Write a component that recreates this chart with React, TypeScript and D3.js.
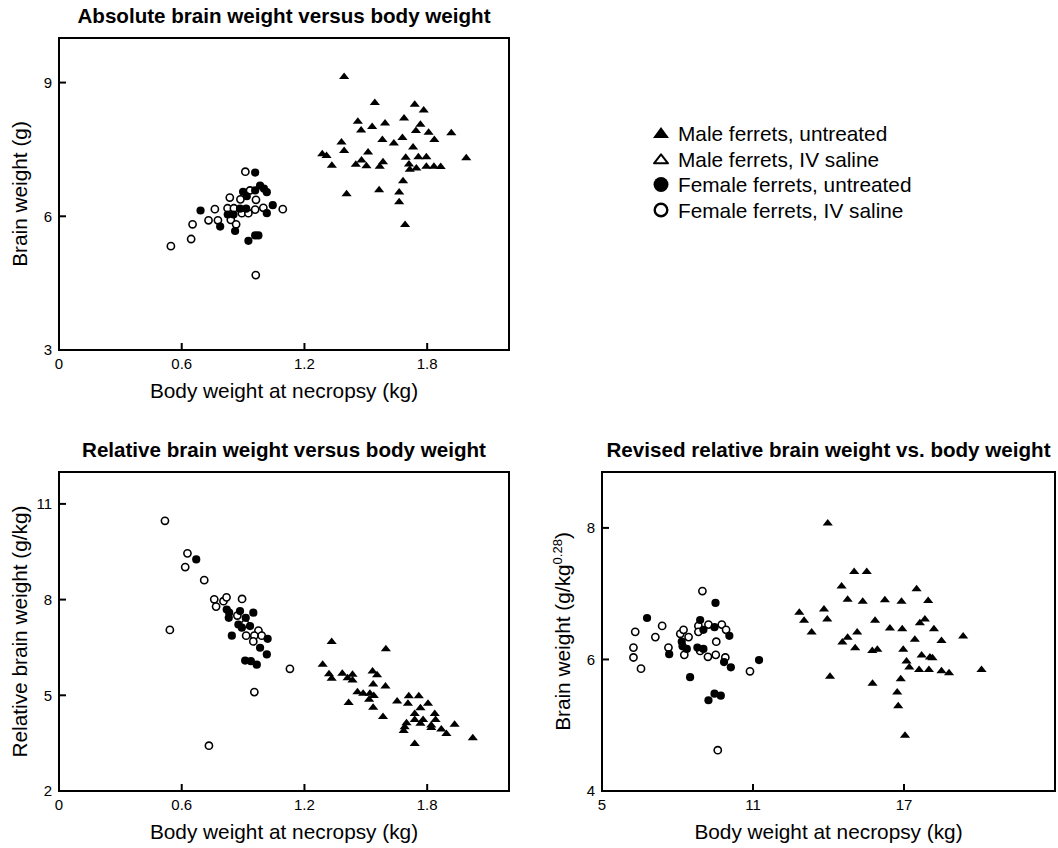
import * as d3 from 'd3';

const FONT = '"Liberation Sans", Arial, Helvetica, sans-serif';

// --- data ---
const kgTicks = [0, 0.6, 1.2, 1.8];
const absTicks = [3, 6, 9];
const relTicks = [2, 5, 8, 11];
const revXTicks = [5, 11, 17];
const revYTicks = [4, 6, 8];

const legendLabels = [
  'Male ferrets, untreated',
  'Male ferrets, IV saline',
  'Female ferrets, untreated',
  'Female ferrets, IV saline',
];

// Absolute brain weight (g) vs body weight (kg)
const absMale: [number, number][] = [
  [1.394, 9.14], [1.544, 8.56], [1.739, 8.52], [1.783, 8.39], [1.461, 8.14], [1.594, 8.1],
  [1.687, 8.21], [1.767, 8.07], [1.477, 7.94], [1.531, 8.02], [1.745, 7.93], [1.807, 7.89],
  [1.918, 7.88], [1.381, 7.67], [1.581, 7.73], [1.637, 7.65], [1.679, 7.77], [1.835, 7.73],
  [1.394, 7.48], [1.511, 7.45], [1.731, 7.56], [1.287, 7.41], [1.308, 7.37], [1.695, 7.33],
  [1.757, 7.34], [1.796, 7.34], [1.991, 7.32], [1.479, 7.27], [1.451, 7.17], [1.503, 7.14],
  [1.334, 7.15], [1.584, 7.23], [1.568, 7.13], [1.711, 7.18], [1.715, 7.06], [1.747, 7.09],
  [1.796, 7.13], [1.833, 7.13], [1.866, 7.12], [1.682, 6.8], [1.406, 6.51], [1.565, 6.6],
  [1.663, 6.55], [1.663, 6.33], [1.692, 5.82],
];
const absFemale: [number, number][] = [
  [0.692, 6.13], [0.788, 5.77], [0.825, 6.04], [0.853, 6.04], [0.861, 5.67], [0.885, 6.17],
  [0.9, 6.55], [0.915, 6.17], [0.918, 6.45], [0.926, 5.45], [0.959, 6.98], [0.959, 6.58],
  [0.959, 5.57], [0.975, 5.57], [0.983, 6.69], [1.002, 6.62], [1.016, 6.54], [1.016, 6.07],
  [1.045, 6.25],
];
const absFemaleSaline: [number, number][] = [
  [0.547, 5.33], [0.646, 5.49], [0.653, 5.82], [0.731, 5.91], [0.762, 6.16], [0.777, 5.91],
  [0.824, 6.18], [0.835, 6.42], [0.84, 5.92], [0.855, 6.18], [0.866, 5.82], [0.887, 6.38],
  [0.894, 6.07], [0.911, 7.0], [0.926, 6.07], [0.934, 6.58], [0.959, 6.15], [0.963, 6.37],
  [0.999, 6.19], [1.094, 6.16], [0.962, 4.68],
];

// Relative brain weight (g/kg) vs body weight (kg)
const relMale: [number, number][] = [
  [1.333, 6.69], [1.598, 6.47], [1.289, 5.98], [1.32, 5.68], [1.333, 5.54], [1.385, 5.7],
  [1.411, 5.56], [1.435, 5.67], [1.435, 5.49], [1.533, 5.77], [1.555, 5.65], [1.536, 5.36],
  [1.596, 5.3], [1.459, 5.12], [1.487, 5.07], [1.52, 5.07], [1.539, 5.0], [1.516, 4.88],
  [1.416, 4.78], [1.536, 4.63], [1.584, 4.34], [1.653, 4.83], [1.71, 4.99], [1.759, 4.99],
  [1.706, 4.76], [1.804, 4.76], [1.767, 4.62], [1.837, 4.44], [1.739, 4.44], [1.739, 4.25],
  [1.78, 4.25], [1.841, 4.25], [1.699, 4.15], [1.767, 4.13], [1.82, 4.08], [1.82, 4.0],
  [1.69, 4.02], [1.685, 3.9], [1.869, 3.95], [1.894, 3.81], [1.934, 4.1], [2.023, 3.68],
  [1.739, 3.5],
];
const relFemale: [number, number][] = [
  [0.671, 9.26], [0.82, 7.69], [0.832, 7.59], [0.83, 7.43], [0.885, 7.64], [0.95, 7.59],
  [0.913, 7.43], [0.877, 7.22], [0.894, 7.12], [0.934, 7.17], [0.845, 6.87], [1.02, 6.77],
  [0.983, 6.49], [1.016, 6.28], [0.91, 6.09], [0.938, 6.07], [0.967, 5.96],
];
const relFemaleSaline: [number, number][] = [
  [0.518, 10.47], [0.628, 9.45], [0.617, 9.02], [0.71, 8.61], [0.759, 8.01], [0.768, 7.78],
  [0.804, 7.95], [0.819, 8.07], [0.895, 8.02], [0.872, 7.5], [0.91, 7.24], [0.975, 7.03],
  [0.955, 6.87], [0.991, 6.87], [0.915, 6.87], [0.95, 6.69], [0.542, 7.05], [1.129, 5.83],
  [0.955, 5.1], [0.733, 3.42],
];

// Revised relative brain weight (g/kg^0.28) vs body weight
const revMale: [number, number][] = [
  [13.97, 8.08], [15.02, 7.34], [15.52, 7.34], [14.52, 7.12], [17.5, 7.08], [14.76, 6.92],
  [15.36, 6.89], [16.24, 6.91], [16.9, 6.89], [17.96, 6.9], [12.84, 6.72], [13.82, 6.77],
  [13.03, 6.6], [13.95, 6.62], [13.33, 6.42], [15.85, 6.6], [17.83, 6.62], [17.63, 6.56],
  [16.44, 6.48], [16.93, 6.47], [18.19, 6.47], [15.14, 6.42], [14.76, 6.34], [14.55, 6.27],
  [17.43, 6.31], [18.49, 6.29], [15.06, 6.18], [15.74, 6.14], [15.94, 6.16], [16.97, 6.16],
  [17.7, 6.07], [18.03, 6.04], [18.13, 6.03], [17.1, 5.98], [17.21, 5.89], [17.6, 5.85],
  [17.99, 5.85], [18.49, 5.83], [18.79, 5.8], [16.87, 5.71], [14.06, 5.75], [15.75, 5.64],
  [16.73, 5.51], [16.77, 5.3], [17.04, 4.85], [19.35, 6.36], [20.08, 5.85],
];
const revFemale: [number, number][] = [
  [6.79, 6.63], [9.51, 6.86], [8.9, 6.6], [9.03, 6.45], [9.47, 6.49], [10.06, 6.36],
  [8.17, 6.27], [8.2, 6.2], [8.37, 6.16], [7.67, 6.08], [8.79, 6.18], [9.03, 6.16],
  [9.85, 5.96], [10.12, 5.88], [11.24, 5.99], [8.5, 5.73], [9.47, 5.48], [9.72, 5.45],
  [9.23, 5.38],
];
const revFemaleSaline: [number, number][] = [
  [8.99, 7.04], [6.32, 6.42], [7.39, 6.51], [7.12, 6.34], [6.25, 6.18], [6.25, 6.03],
  [6.55, 5.86], [7.64, 6.18], [8.11, 6.39], [8.24, 6.45], [8.44, 6.34], [8.27, 6.07],
  [8.83, 6.51], [8.83, 6.42], [9.23, 6.53], [9.76, 6.53], [9.93, 6.45], [9.54, 6.27],
  [8.9, 6.13], [9.21, 6.04], [9.52, 6.07], [9.9, 6.03], [10.88, 5.82], [9.6, 4.62],
];

type Box = { left: number; right: number; top: number; bottom: number };

function tri(cx: number, cy: number, hw: number, h: number) {
  return `M${cx - hw},${cy + h * 0.42} L${cx},${cy - h * 0.58} L${cx + hw},${cy + h * 0.42} Z`;
}

function Panel(props: {
  box: Box;
  xDomain: [number, number];
  yDomain: [number, number];
  xTicks: number[];
  yTicks: number[];
  title: string;
  yLabel: any;
  males: [number, number][];
  females: [number, number][];
  femalesSaline: [number, number][];
}) {
  const { box, xDomain, yDomain, xTicks, yTicks, title, yLabel, males, females, femalesSaline } = props;
  const x = d3.scaleLinear().domain(xDomain).range([box.left, box.right]);
  const y = d3.scaleLinear().domain(yDomain).range([box.bottom, box.top]);
  const cx = (box.left + box.right) / 2;
  const cy = (box.top + box.bottom) / 2;

  return (
    <g fontFamily={FONT} fill="#000">
      <text x={cx} y={box.top - 15} textAnchor="middle" fontSize={20.6} fontWeight="bold">
        {title}
      </text>
      <rect
        x={box.left}
        y={box.top}
        width={box.right - box.left}
        height={box.bottom - box.top}
        fill="none"
        stroke="#000"
        strokeWidth={2}
      />
      {xTicks.map((t) => (
        <g key={'x' + t}>
          <line x1={x(t)} x2={x(t)} y1={box.bottom} y2={box.bottom - 7} stroke="#000" strokeWidth={2} />
          <text x={x(t)} y={box.bottom + 19} textAnchor="middle" fontSize={15}>
            {String(t)}
          </text>
        </g>
      ))}
      {yTicks.map((t) => (
        <g key={'y' + t}>
          <line x1={box.left} x2={box.left + 7} y1={y(t)} y2={y(t)} stroke="#000" strokeWidth={2} />
          <text x={box.left - 7} y={y(t)} dy="0.36em" textAnchor="end" fontSize={15}>
            {String(t)}
          </text>
        </g>
      ))}
      <text x={cx} y={box.bottom + 48} textAnchor="middle" fontSize={20.8}>
        Body weight at necropsy (kg)
      </text>
      <text transform={`translate(${box.left - 32},${cy}) rotate(-90)`} textAnchor="middle" fontSize={20.8}>
        {yLabel}
      </text>

      {/* points */}
      {males.map((d, i) => (
        <path key={'m' + i} d={tri(x(d[0]), y(d[1]), 5.1, 6.5)} fill="#000" />
      ))}
      {femalesSaline.map((d, i) => (
        <circle key={'s' + i} cx={x(d[0])} cy={y(d[1])} r={3.6} fill="#fff" stroke="#000" strokeWidth={1.6} />
      ))}
      {females.map((d, i) => (
        <circle key={'f' + i} cx={x(d[0])} cy={y(d[1])} r={4.1} fill="#000" />
      ))}
    </g>
  );
}

function Legend() {
  const rowY = d3.scaleLinear().domain([0, 1]).range([141, 166.5]);
  const sx = 661;
  return (
    <g fontFamily={FONT}>
      {legendLabels.map((label, i) => {
        const by = rowY(i);
        const my = by - 7.5;
        let marker;
        if (i === 0) marker = <path d={tri(sx, my, 8, 11)} fill="#000" />;
        else if (i === 1) marker = <path d={tri(sx, my + 0.5, 7, 9)} fill="#fff" stroke="#000" strokeWidth={2} strokeLinejoin="round" />;
        else if (i === 2) marker = <circle cx={sx} cy={my} r={7.5} fill="#000" />;
        else marker = <circle cx={sx} cy={my} r={6.3} fill="#fff" stroke="#000" strokeWidth={2.4} />;
        return (
          <g key={label}>
            {marker}
            <text x={678} y={by} fontSize={20.8} fill="#000">
              {label}
            </text>
          </g>
        );
      })}
    </g>
  );
}

export default function App() {
  return (
    <svg
      width={1058}
      height={848}
      style={{ position: 'absolute', left: 0, top: 0, display: 'block', background: '#fff' }}
    >
      <Panel
        box={{ left: 59, right: 509, top: 38, bottom: 350 }}
        xDomain={[0, 2.2]}
        yDomain={[3, 10]}
        xTicks={kgTicks}
        yTicks={absTicks}
        title="Absolute brain weight versus body weight"
        yLabel="Brain weight (g)"
        males={absMale}
        females={absFemale}
        femalesSaline={absFemaleSaline}
      />
      <Legend />
      <Panel
        box={{ left: 59, right: 509, top: 472, bottom: 791 }}
        xDomain={[0, 2.2]}
        yDomain={[2, 12]}
        xTicks={kgTicks}
        yTicks={relTicks}
        title="Relative brain weight versus body weight"
        yLabel="Relative brain weight (g/kg)"
        males={relMale}
        females={relFemale}
        femalesSaline={relFemaleSaline}
      />
      <Panel
        box={{ left: 602, right: 1055, top: 472, bottom: 791 }}
        xDomain={[5, 23]}
        yDomain={[4, 8.85]}
        xTicks={revXTicks}
        yTicks={revYTicks}
        title="Revised relative brain weight vs. body weight"
        yLabel={
          <>
            Brain weight (g/kg
            <tspan dy={-8} fontSize={13}>0.28</tspan>
            <tspan dy={8}>)</tspan>
          </>
        }
        males={revMale}
        females={revFemale}
        femalesSaline={revFemaleSaline}
      />
    </svg>
  );
}
